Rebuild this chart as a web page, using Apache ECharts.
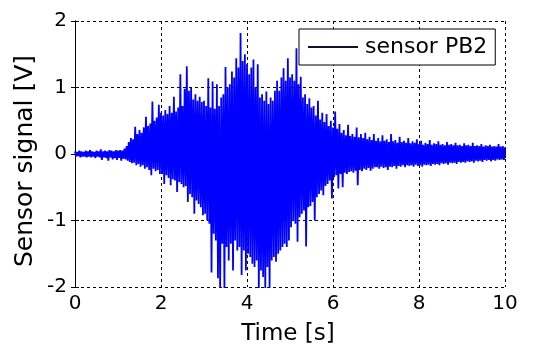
<!DOCTYPE html>
<html>
<head>
<meta charset="utf-8">
<script src="https://cdn.jsdelivr.net/npm/echarts@6/dist/echarts.min.js"></script>
<style>html,body{margin:0;padding:0;background:#fff}#c{width:538px;height:350px}</style>
</head>
<body>
<div id="c"></div>
<script>
// Sensor PB2 signal: positive peaks sampled every 0.05 s from t = 0 s
const peaks = [
  0.04,0.03,0.05,0.04,0.03,0.05,0.04,0.06,0.04,0.03,0.05,0.04,0.07,0.04,0.05,0.04,0.06,0.05,0.04,0.06,
  0.05,0.06,0.05,0.08,0.12,0.18,0.24,0.22,0.41,0.3,0.36,0.32,0.4,0.56,0.42,0.46,0.79,0.5,0.55,0.74,
  0.62,0.58,0.66,0.6,0.72,0.62,0.86,0.64,0.7,1.2,0.72,0.98,1.32,0.95,1.0,0.82,0.9,0.8,0.86,0.78,
  0.8,0.72,1.14,0.7,1.09,0.68,1.05,0.72,0.85,0.9,1.31,1.0,1.05,1.24,1.15,1.44,1.3,1.82,1.4,1.5,
  1.35,1.2,1.3,1.42,1.0,1.35,0.85,0.9,0.8,0.94,0.75,0.85,0.8,0.95,1.1,0.95,1.15,1.29,1.1,1.44,
  1.15,1.2,1.1,1.59,1.05,1.16,0.85,0.9,0.75,0.84,0.7,0.72,0.58,0.8,0.52,0.62,0.48,0.6,0.42,0.5,
  0.4,0.64,0.38,0.45,0.32,0.36,0.28,0.44,0.27,0.3,0.26,0.4,0.25,0.3,0.24,0.32,0.22,0.26,0.21,0.3,
  0.2,0.24,0.19,0.28,0.2,0.22,0.18,0.3,0.19,0.21,0.17,0.26,0.18,0.2,0.17,0.24,0.16,0.19,0.17,0.22,
  0.15,0.2,0.14,0.17,0.15,0.21,0.14,0.16,0.15,0.19,0.14,0.15,0.13,0.18,0.14,0.15,0.13,0.17,0.13,0.14,
  0.12,0.16,0.13,0.14,0.12,0.17,0.12,0.13,0.12,0.15,0.11,0.13,0.12,0.14,0.11,0.12,0.11,0.15,0.11,0.12,
  0.1
];
// negative troughs, sampled every 0.05 s from t = 0.025 s
const troughs = [
  -0.04,-0.03,-0.05,-0.04,-0.04,-0.05,-0.04,-0.05,-0.04,-0.06,-0.04,-0.05,-0.09,-0.05,-0.06,-0.1,-0.05,-0.08,-0.06,-0.09,
  -0.06,-0.1,-0.07,-0.08,-0.1,-0.12,-0.14,-0.13,-0.17,-0.15,-0.19,-0.17,-0.22,-0.2,-0.24,-0.32,-0.22,-0.26,-0.24,-0.3,
  -0.3,-0.45,-0.32,-0.36,-0.47,-0.38,-0.4,-0.57,-0.42,-0.45,-0.5,-0.48,-0.72,-0.6,-0.65,-0.9,-0.7,-0.75,-0.8,-0.92,
  -0.9,-1.0,-1.05,-1.78,-1.2,-1.3,-1.87,-2.05,-1.35,-2.05,-1.4,-1.6,-1.35,-1.75,-1.3,-1.45,-1.4,-1.82,-1.45,-1.75,
  -1.5,-1.55,-1.65,-1.7,-1.6,-2.05,-1.75,-1.85,-2.05,-1.7,-2.05,-1.6,-1.55,-1.62,-1.5,-1.45,-1.4,-1.35,-1.4,-1.3,
  -1.1,-1.0,-1.05,-1.32,-0.95,-0.9,-0.85,-1.39,-0.8,-0.78,-0.72,-1.0,-0.65,-0.6,-0.55,-0.62,-0.48,-0.45,-0.4,-0.67,
  -0.35,-0.32,-0.52,-0.3,-0.5,-0.28,-0.3,-0.27,-0.26,-0.28,-0.25,-0.47,-0.24,-0.26,-0.22,-0.24,-0.21,-0.25,-0.22,-0.2,
  -0.2,-0.22,-0.19,-0.21,-0.2,-0.24,-0.19,-0.2,-0.18,-0.22,-0.18,-0.19,-0.17,-0.2,-0.17,-0.18,-0.17,-0.19,-0.16,-0.18,
  -0.17,-0.19,-0.16,-0.17,-0.16,-0.18,-0.15,-0.16,-0.15,-0.17,-0.14,-0.15,-0.14,-0.16,-0.13,-0.14,-0.13,-0.15,-0.12,-0.13,
  -0.12,-0.13,-0.11,-0.12,-0.11,-0.13,-0.1,-0.11,-0.1,-0.12,-0.09,-0.1,-0.09,-0.11,-0.09,-0.1,-0.08,-0.09,-0.08,-0.09
];
const sampleStep = 0.05;
const xTicks = [0, 2, 4, 6, 8, 10];
const yTicks = [-2, -1, 0, 1, 2];
const seriesName = 'sensor PB2';
const xTitle = 'Time [s]';
const yTitle = 'Sensor signal [V]';

const signal = [];
for (let i = 0; i < peaks.length; i++) {
  signal.push([+(i * sampleStep).toFixed(3), peaks[i]]);
  if (i < troughs.length) signal.push([+(i * sampleStep + sampleStep / 2).toFixed(3), troughs[i]]);
}

const FONT = 'DejaVu Sans';
const grid = { left: 75, right: 33, top: 21, bottom: 63 };
const dash = { color: '#000', width: 1, type: [3, 3] };

const chart = echarts.init(document.getElementById('c'), null, { renderer: 'canvas' });
chart.setOption({
  animation: false,
  backgroundColor: '#fff',
  grid: Object.assign({ show: false, containLabel: false }, grid),
  legend: {
    data: [{ name: seriesName, icon: 'rect' }],
    left: 299, top: 29,
    itemWidth: 50, itemHeight: 2, itemGap: 0,
    padding: [7, 8, 7, 9],
    backgroundColor: '#fff',
    borderColor: '#000', borderWidth: 1, borderRadius: 0,
    textStyle: { fontFamily: FONT, fontSize: 22, color: '#000', padding: [0, 0, 0, 2] },
    itemStyle: { color: '#101030', borderWidth: 0 },
    lineStyle: { color: '#101030', width: 0 }
  },
  xAxis: [{
    type: 'value', min: xTicks[0], max: xTicks[xTicks.length - 1], interval: 2,
    axisLine: { show: true, lineStyle: { color: '#000', width: 1 } },
    axisTick: { show: true, inside: true, length: 4, lineStyle: { color: '#000' } },
    axisLabel: { fontFamily: FONT, fontSize: 20, color: '#000', margin: 7 },
    splitLine: { show: true, lineStyle: dash }
  }, {
    type: 'value', position: 'top', min: xTicks[0], max: xTicks[xTicks.length - 1], interval: 2,
    axisLine: { show: true, lineStyle: { color: '#000', width: 1 } },
    axisTick: { show: true, inside: true, length: 4, lineStyle: { color: '#000' } },
    axisLabel: { show: false }, splitLine: { show: false }
  }],
  yAxis: [{
    type: 'value', min: yTicks[0], max: yTicks[yTicks.length - 1], interval: 1,
    axisLine: { show: true, lineStyle: { color: '#000', width: 1 } },
    axisTick: { show: true, inside: true, length: 4, lineStyle: { color: '#000' } },
    axisLabel: { fontFamily: FONT, fontSize: 20, color: '#000', margin: 8 },
    splitLine: { show: true, lineStyle: dash }
  }, {
    type: 'value', position: 'right', min: yTicks[0], max: yTicks[yTicks.length - 1], interval: 1,
    axisLine: { show: true, lineStyle: { color: '#000', width: 1 } },
    axisTick: { show: true, inside: true, length: 4, lineStyle: { color: '#000' } },
    axisLabel: { show: false }, splitLine: { show: false }
  }],
  series: [{
    name: seriesName, type: 'line', xAxisIndex: 0, yAxisIndex: 0,
    data: signal, symbol: 'none', showSymbol: false, sampling: null,
    lineStyle: { color: '#0000ff', width: 1.8 }, itemStyle: { color: '#0000ff' },
    clip: true, z: 3
  }],
  graphic: [{
    type: 'text', x: 288, y: 334,
    style: { text: xTitle, fontFamily: FONT, fontSize: 23, fill: '#000', align: 'center', verticalAlign: 'middle' }
  }, {
    type: 'text', x: 25, y: 161, rotation: Math.PI / 2,
    style: { text: yTitle, fontFamily: FONT, fontSize: 25, fill: '#000', align: 'center', verticalAlign: 'middle' }
  }]
});
</script>
</body>
</html>
